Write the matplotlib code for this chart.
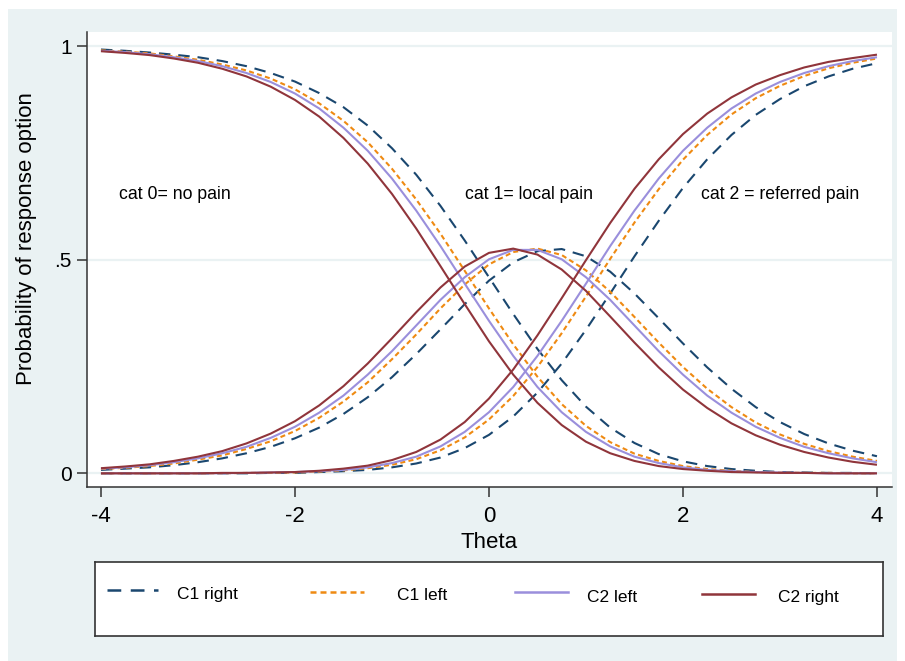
import matplotlib
matplotlib.use("Agg")
import matplotlib.pyplot as plt
from matplotlib.patches import Rectangle

# ---- data ----
theta = [-4.0, -3.75, -3.5, -3.25, -3.0, -2.75, -2.5, -2.25, -2.0, -1.75, -1.5, -1.25,
         -1.0, -0.75, -0.5, -0.25, 0.0, 0.25, 0.5, 0.75, 1.0, 1.25, 1.5, 1.75,
         2.0, 2.25, 2.5, 2.75, 3.0, 3.25, 3.5, 3.75, 4.0]

c1_right_cat0 = [.992, .989, .985, .980, .974, .965, .953, .937, .917, .890, .857, .814, .761, .699, .626, .545, .459,
                 .373, .291, .218, .156, .107, .071, .045, .028, .017, .010, .006, .003, .002, .001, .001, .000]
c1_right_cat1 = [.008, .011, .014, .019, .026, .035, .047, .062, .082, .107, .139, .178, .225, .279, .337, .396, .451,
                 .494, .520, .525, .508, .472, .421, .363, .304, .248, .198, .155, .120, .092, .070, .053, .040]
c1_right_cat2 = [.000, .000, .000, .000, .000, .000, .000, .001, .001, .003, .005, .008, .014, .023, .037, .059, .090,
                 .133, .189, .257, .336, .421, .508, .591, .668, .735, .792, .839, .876, .906, .929, .947, .960]

c1_left_cat0 = [.990, .987, .983, .976, .968, .957, .943, .924, .899, .866, .825, .775, .713, .641, .561, .474, .386,
                .302, .226, .162, .111, .073, .046, .029, .017, .010, .006, .003, .002, .001, .001, .000, .000]
c1_left_cat1 = [.010, .013, .017, .023, .032, .042, .057, .075, .099, .130, .168, .213, .267, .325, .386, .442, .489,
                .518, .526, .511, .475, .425, .366, .306, .249, .198, .155, .119, .091, .069, .052, .039, .029]
c1_left_cat2 = [.000, .000, .000, .000, .000, .000, .001, .001, .002, .004, .007, .012, .020, .033, .054, .084, .126,
                .181, .249, .328, .414, .502, .587, .665, .734, .792, .840, .878, .907, .930, .948, .961, .971]

c2_left_cat0 = [.989, .986, .981, .974, .965, .953, .937, .916, .889, .854, .809, .755, .690, .615, .532, .444, .357,
                .275, .202, .143, .097, .063, .039, .024, .014, .008, .005, .003, .002, .001, .000, .000, .000]
c2_left_cat1 = [.011, .014, .019, .026, .035, .047, .062, .083, .109, .142, .182, .231, .286, .346, .406, .459, .501,
                .523, .523, .501, .459, .406, .346, .286, .231, .182, .142, .109, .083, .062, .047, .035, .026]
c2_left_cat2 = [.000, .000, .000, .000, .000, .000, .001, .002, .003, .005, .008, .014, .024, .039, .063, .097, .143,
                .202, .275, .357, .444, .532, .615, .690, .755, .809, .854, .889, .916, .937, .953, .965, .974]

c2_right_cat0 = [.988, .984, .979, .971, .961, .947, .929, .905, .874, .835, .785, .725, .654, .573, .485, .396, .309,
                 .231, .165, .113, .074, .047, .029, .017, .010, .006, .003, .002, .001, .001, .000, .000, .000]
c2_right_cat1 = [.012, .016, .021, .029, .039, .052, .070, .093, .122, .159, .204, .257, .316, .377, .435, .484, .516,
                 .526, .512, .477, .427, .367, .306, .248, .196, .153, .117, .089, .067, .050, .037, .027, .020]
c2_right_cat2 = [.000, .000, .000, .000, .000, .001, .001, .002, .003, .006, .011, .018, .031, .050, .079, .120, .175,
                 .243, .323, .410, .499, .586, .666, .735, .794, .842, .880, .910, .932, .950, .963, .972, .980]

series_labels = ["C1 right", "C1 left", "C2 left", "C2 right"]
x_ticks = [-4, -2, 0, 2, 4]
x_tick_labels = ["-4", "-2", "0", "2", "4"]
y_ticks = [0, 0.5, 1]
y_tick_labels = ["0", ".5", "1"]
annotations = ["cat 0= no pain", "cat 1= local pain", "cat 2 = referred pain"]

# ---- styling ----
plt.rcParams["font.family"] = ["Liberation Sans", "DejaVu Sans"]
W, H = 905, 661
BG = "#eaf2f3"
AX = "#333333"
colors = ["#1a476f", "#ef8a12", "#9a8fdc", "#90353b"]
styles = [(0, (5.5, 3.8)), (0, (2.4, 1.6)), "-", "-"]
LW = 1.5

fig = plt.figure(figsize=(W / 100, H / 100), dpi=100)
fig.patch.set_facecolor("white")
fig.patches.append(Rectangle((8 / W, 0), (897 - 8) / W, (H - 9) / H, transform=fig.transFigure,
                             facecolor=BG, edgecolor="none", zorder=-10))

ax = fig.add_axes([87 / W, (H - 487) / H, (892 - 87) / W, (487 - 32) / H])
ax.set_facecolor("white")

data = [
    (c1_right_cat0, c1_right_cat1, c1_right_cat2),
    (c1_left_cat0, c1_left_cat1, c1_left_cat2),
    (c2_left_cat0, c2_left_cat1, c2_left_cat2),
    (c2_right_cat0, c2_right_cat1, c2_right_cat2),
]
for i, cats in enumerate(data):
    for c in cats:
        ax.plot(theta, c, color=colors[i], linestyle=styles[i], lw=LW, zorder=3 + i,
                solid_capstyle="butt", dash_capstyle="butt")

ax.set_xlim(-4.144, 4.155)
ax.set_ylim(-0.032, 1.033)
ax.set_xticks(x_ticks)
ax.set_xticklabels(x_tick_labels, fontsize=16)
ax.set_yticks(y_ticks)
ax.set_yticklabels(y_tick_labels, fontsize=15)
for y in y_ticks:
    ax.axhline(y, color=BG, lw=1.6, zorder=1)
for s in ["top", "right"]:
    ax.spines[s].set_visible(False)
for s in ["left", "bottom"]:
    ax.spines[s].set_color(AX)
    ax.spines[s].set_linewidth(1.1)
ax.tick_params(axis="x", length=7, width=1.1, color=AX, pad=7, labelcolor="black")
ax.tick_params(axis="y", length=7, width=1.1, color=AX, pad=4, labelcolor="black")

ax.set_xlabel("Theta", fontsize=16, labelpad=3)
ax.set_ylabel("Probability of response option", fontsize=16)
ax.yaxis.set_label_coords(-0.062, 0.547)

ann_x = [-3.81, -0.247, 2.19]
for txt, xx in zip(annotations, ann_x):
    ax.text(xx, 0.642, txt, fontsize=12.7, ha="left", va="baseline", zorder=10)

# ---- legend box ----
lx0, ly0, lx1, ly1 = 95, 562, 883, 636
lax = fig.add_axes([lx0 / W, (H - ly1) / H, (lx1 - lx0) / W, (ly1 - ly0) / H])
lax.set_xlim(lx0, lx1)
lax.set_ylim(ly1, ly0)
lax.set_xticks([])
lax.set_yticks([])
lax.set_facecolor("white")
for s in lax.spines.values():
    s.set_color(AX)
    s.set_linewidth(1.2)
key_x = [(107, 158), (310, 364), (515, 568), (702, 755)]
key_y = [590, 592, 592, 594]
text_x = [177, 397, 587, 778]
text_y = [599, 600, 602, 602]
for i in range(4):
    lax.plot(key_x[i], [key_y[i], key_y[i]], color=colors[i], linestyle=styles[i], lw=LW + 0.3,
             dash_capstyle="butt")
    lax.text(text_x[i], text_y[i], series_labels[i], fontsize=12.5, ha="left", va="baseline")

fig.savefig("out.png", dpi=100, facecolor=fig.get_facecolor())
